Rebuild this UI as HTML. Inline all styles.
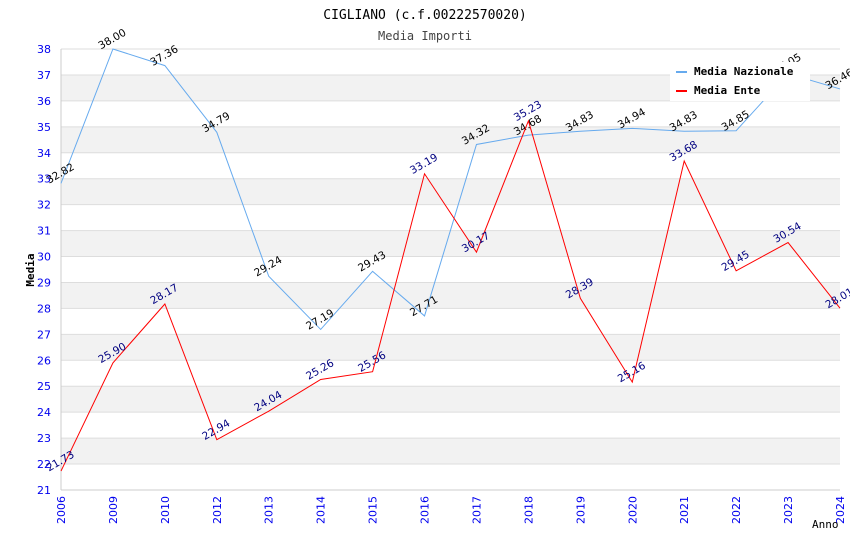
<!DOCTYPE html>
<html><head><meta charset="utf-8"><style>
body{margin:0;background:#fff}
svg{font-family:"DejaVu Sans","Liberation Sans",sans-serif}
</style></head><body>
<svg id="chart" width="850" height="550">
<text x="425" y="19" text-anchor="middle" font-family="DejaVu Sans Mono,Liberation Mono,monospace" font-size="13">CIGLIANO (c.f.00222570020)</text>
<text x="425" y="40" text-anchor="middle" font-family="DejaVu Sans Mono,Liberation Mono,monospace" font-size="12" fill="#444">Media Importi</text>
<g id="bands"></g><g id="grid"></g><g id="axes"></g><g id="series"></g>
<text x="34" y="270" transform="rotate(-90 34 270)" text-anchor="middle" font-family="DejaVu Sans Mono,monospace" font-size="11" font-weight="bold">Media</text>
<text x="812" y="528" font-family="DejaVu Sans Mono,monospace" font-size="11">Anno</text>
<g>
<rect x="670" y="62" width="140" height="39" fill="#fff"/>
<line x1="676" y1="72" x2="687" y2="72" stroke="#66aaee" stroke-width="2"/>
<text x="694" y="75" font-family="DejaVu Sans Mono,monospace" font-size="11" font-weight="bold">Media Nazionale</text>
<line x1="676" y1="91" x2="687" y2="91" stroke="#ff0000" stroke-width="2"/>
<text x="694" y="94" font-family="DejaVu Sans Mono,monospace" font-size="11" font-weight="bold">Media Ente</text>
</g>
</svg>
<script>
const categories=["2006","2009","2010","2012","2013","2014","2015","2016","2017","2018","2019","2020","2021","2022","2023","2024"];
const nazionale=[32.82,38.00,37.36,34.79,29.24,27.19,29.43,27.71,34.32,34.68,34.83,34.94,34.83,34.85,37.05,36.46];
const ente=[21.73,25.90,28.17,22.94,24.04,25.26,25.56,33.19,30.17,35.23,28.39,25.16,33.68,29.45,30.54,28.01];
const yTicks=[21,22,23,24,25,26,27,28,29,30,31,32,33,34,35,36,37,38];
const NS="http://www.w3.org/2000/svg";
const L=61,R=840,T=49,B=490,yMin=21,yMax=38;
const x=i=>L+i*(R-L)/(categories.length-1);
const y=v=>B-(v-yMin)*(B-T)/(yMax-yMin);
function mk(tag,attrs,parent){const e=document.createElementNS(NS,tag);for(const k in attrs)e.setAttribute(k,attrs[k]);document.getElementById(parent).appendChild(e);return e;}
for(let v=22;v<38;v+=2){const r=mk('rect',{x:L,y:y(v+1),width:R-L,height:y(v)-y(v+1),fill:'#f2f2f2'},'bands');

}
yTicks.forEach(v=>{const g=mk('line',{x1:L,x2:R,y1:y(v),y2:y(v),stroke:'#ddd'},'grid');


const t=mk('text',{x:L-10,y:y(v)+4,'text-anchor':'end','font-size':11,fill:'#0000ee'},'axes');t.textContent=v;

});
mk('line',{x1:L,x2:L,y1:T,y2:B,stroke:'#ccc'},'axes');
mk('line',{x1:L,x2:R,y1:B,y2:B,stroke:'#ccc'},'axes');
categories.forEach((c,i)=>{const tx=x(i),ty=B+6;const t=mk('text',{x:tx+4,y:ty,transform:`rotate(-90 ${tx+4} ${ty})`,'text-anchor':'end','font-size':11,fill:'#0000ee'},'axes');t.textContent=c;

});
function series(vals,color,lcolor,name){
const p=mk('polyline',{points:vals.map((v,i)=>x(i)+','+y(v)).join(' '),fill:'none',stroke:color,'stroke-width':1},'series');


vals.forEach((v,i)=>{const px=x(i)+1,py=y(v)-7;const t=mk('text',{x:px,y:py,transform:`rotate(-30 ${px} ${py})`,'text-anchor':'middle','font-size':10.5,fill:lcolor},'series');t.textContent=v.toFixed(2);

});}
series(nazionale,'#66aaee','#000','nazionale');
series(ente,'#ff0000','#000080','ente');
</script>
</body></html>
